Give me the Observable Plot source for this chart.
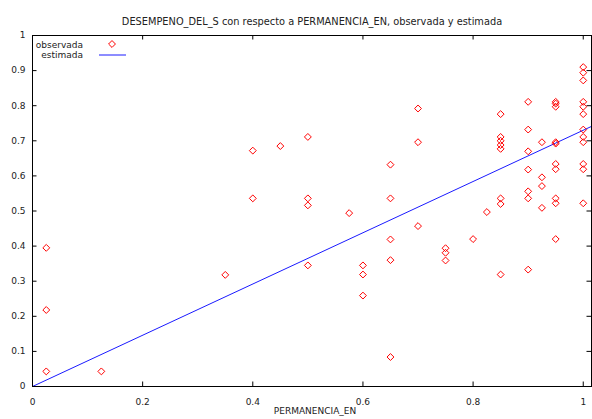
<!DOCTYPE html>
<html>
<head>
<meta charset="utf-8">
<script src="https://cdn.jsdelivr.net/npm/d3@7"></script>
<script src="https://cdn.jsdelivr.net/npm/@observablehq/plot@0.6"></script>
<style>
  html, body { margin: 0; padding: 0; background: #fff; }
  #chart svg { display: block; }
</style>
</head>
<body>
<div id="chart"></div>
<script>
// ---- data ----
const titleText = "DESEMPENO_DEL_S con respecto a PERMANENCIA_EN, observada y estimada";
const xLabel = "PERMANENCIA_EN";
const legendLabels = ["observada", "estimada"];
const xTicks = [0, 0.2, 0.4, 0.6, 0.8, 1];
const yTicks = [0, 0.1, 0.2, 0.3, 0.4, 0.5, 0.6, 0.7, 0.8, 0.9, 1];
const xDomain = [0, 1.015];
const yDomain = [0, 1];

// observed points (PERMANENCIA_EN, DESEMPENO_DEL_S)
const permanencia = [
  0.025, 0.025, 0.025,
  0.125,
  0.35,
  0.4, 0.4,
  0.45,
  0.5, 0.5, 0.5, 0.5,
  0.575,
  0.6, 0.6, 0.6,
  0.65, 0.65, 0.65, 0.65, 0.65,
  0.7, 0.7, 0.7,
  0.75, 0.75, 0.75,
  0.8,
  0.825,
  0.85, 0.85, 0.85, 0.85, 0.85, 0.85, 0.85, 0.85,
  0.9, 0.9, 0.9, 0.9, 0.9, 0.9, 0.9,
  0.925, 0.925, 0.925, 0.925,
  0.95, 0.95, 0.95, 0.95, 0.95, 0.95, 0.95, 0.95, 0.95, 0.95,
  1, 1, 1, 1, 1, 1, 1, 1, 1, 1, 1, 1
];
const desempeno = [
  0.395, 0.218, 0.043,
  0.043,
  0.318,
  0.672, 0.536,
  0.685,
  0.711, 0.536, 0.516, 0.345,
  0.494,
  0.345, 0.319, 0.259,
  0.632, 0.536, 0.419, 0.36, 0.084,
  0.792, 0.696, 0.457,
  0.394, 0.381, 0.359,
  0.42,
  0.497,
  0.776, 0.711, 0.70, 0.688, 0.677, 0.536, 0.52, 0.319,
  0.811, 0.732, 0.67, 0.618, 0.556, 0.536, 0.333,
  0.696, 0.596, 0.571, 0.509,
  0.811, 0.806, 0.797, 0.696, 0.692, 0.634, 0.619, 0.536, 0.522, 0.42,
  0.91, 0.894, 0.872, 0.811, 0.797, 0.776, 0.732, 0.711, 0.696, 0.634, 0.619, 0.522
];

// estimated (fitted) line endpoints
const fitX = [0, 1.015];
const fitY = [0, 0.741];

// ---- tables built from the arrays ----
const observed = permanencia.map((x, i) => ({x, y: desempeno[i]}));
const estimated = fitX.map((x, i) => ({x, y: fitY[i]}));

const W = 592, H = 419;
const mL = 32, mR = 1, mT = 35, mB = 33;
const plotW = W - mL - mR, plotH = H - mT - mB;
const tick = 4.5;
const font = "DejaVu Sans, Verdana, sans-serif";
const fs = 9;

const chart = Plot.plot({
  width: W,
  height: H,
  marginLeft: mL,
  marginRight: mR,
  marginTop: mT,
  marginBottom: mB,
  style: {fontFamily: font, fontSize: fs + "px", background: "#fff", color: "#000"},
  x: {domain: xDomain},
  y: {domain: yDomain},
  marks: [
    // tick labels
    Plot.axisX({ticks: xTicks, tickSize: 0, tickPadding: 12, tickFormat: d => String(d), label: null, fill: "#222"}),
    Plot.axisY({ticks: yTicks, tickSize: 0, tickPadding: 7, tickFormat: d => String(d), label: null, fill: "#222"}),
    // inward ticks on all four sides
    Plot.tickX(xTicks, {x: d => d, insetTop: plotH - tick, stroke: "#000"}),
    Plot.tickX(xTicks, {x: d => d, insetBottom: plotH - tick, stroke: "#000"}),
    Plot.tickY(yTicks, {y: d => d, insetRight: plotW - tick, stroke: "#000"}),
    Plot.tickY(yTicks, {y: d => d, insetLeft: plotW - tick, stroke: "#000"}),
    // estimated line
    Plot.line(estimated, {x: "x", y: "y", stroke: "#1a1aff", strokeWidth: 1}),
    // observed points
    Plot.dot(observed, {x: "x", y: "y", symbol: "diamond2", r: 3.1, stroke: "#ff0000", fill: "none", strokeWidth: 1}),
    Plot.frame({stroke: "#000", strokeWidth: 1}),
    // title and x label
    Plot.text([titleText], {text: d => d, frameAnchor: "top", dy: -17, dx: 0, fontSize: 9.8, fill: "#222"}),
    Plot.text([xLabel], {text: d => d, frameAnchor: "bottom", dy: 27, dx: 3, fill: "#222"})
  ]
});

// legend (inside the plot, top-left)
const svg = d3.select(chart);
const lg = svg.append("g").attr("font-family", font).attr("font-size", fs).attr("fill", "#222");
const lx = mL + 51, ly0 = mT + 10, lstep = 10;
lg.append("text").attr("x", lx).attr("y", ly0).attr("dy", "0.32em").attr("text-anchor", "end").text(legendLabels[0]);
lg.append("text").attr("x", lx).attr("y", ly0 + lstep).attr("dy", "0.32em").attr("text-anchor", "end").text(legendLabels[1]);
const dsym = d3.symbol(d3.symbolDiamond2, Math.PI * 3.1 * 3.1);
lg.append("path").attr("d", dsym()).attr("transform", `translate(${mL + 80},${ly0 - 1})`)
  .attr("fill", "none").attr("stroke", "#ff0000").attr("stroke-width", 1);
lg.append("line").attr("x1", mL + 67).attr("x2", mL + 94).attr("y1", ly0 + lstep).attr("y2", ly0 + lstep)
  .attr("stroke", "#1a1aff").attr("stroke-width", 1);

document.getElementById("chart").appendChild(chart);
</script>
</body>
</html>
